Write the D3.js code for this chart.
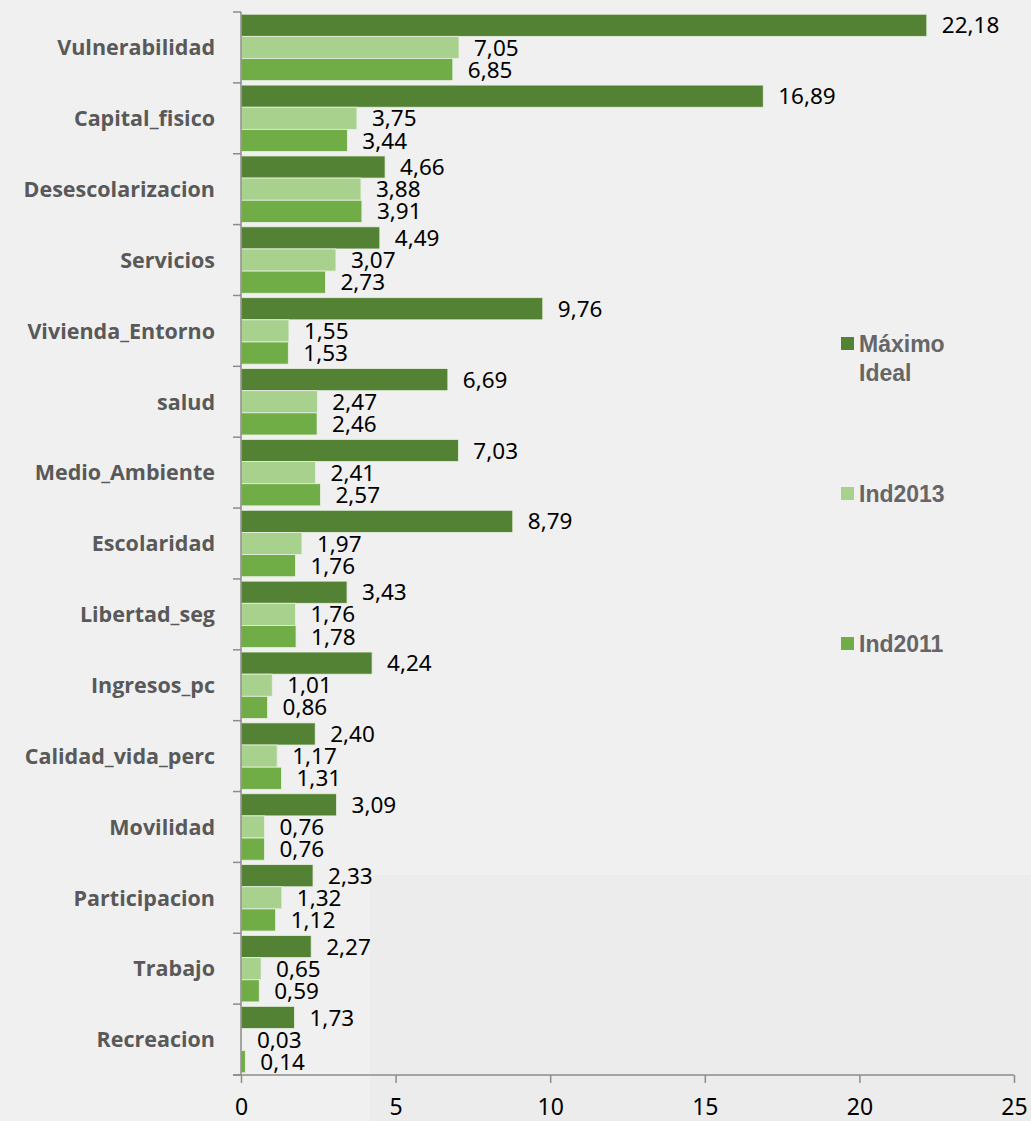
<!DOCTYPE html>
<html>
<head>
<meta charset="utf-8">
<script src="https://cdn.jsdelivr.net/npm/d3@7/dist/d3.min.js"></script>
<style>
  html, body { margin: 0; padding: 0; background: #f0f0f0; }
  svg { display: block; }
</style>
</head>
<body>
<div id="chart"></div>
<script>
// Categories, top to bottom
const categories = [
  "Vulnerabilidad", "Capital_fisico", "Desescolarizacion", "Servicios",
  "Vivienda_Entorno", "salud", "Medio_Ambiente", "Escolaridad",
  "Libertad_seg", "Ingresos_pc", "Calidad_vida_perc", "Movilidad",
  "Participacion", "Trabajo", "Recreacion"
]
const seriesNames = ["Máximo Ideal", "Ind2013", "Ind2011"]
const maximoIdeal = [22.18, 16.89, 4.66, 4.49, 9.76, 6.69, 7.03, 8.79, 3.43, 4.24, 2.40, 3.09, 2.33, 2.27, 1.73]
const ind2013     = [7.05, 3.75, 3.88, 3.07, 1.55, 2.47, 2.41, 1.97, 1.76, 1.01, 1.17, 0.76, 1.32, 0.65, 0.03]
const ind2011     = [6.85, 3.44, 3.91, 2.73, 1.53, 2.46, 2.57, 1.76, 1.78, 0.86, 1.31, 0.76, 1.12, 0.59, 0.14]
const xTicks = [0, 5, 10, 15, 20, 25]

const COLORS = ["#548235", "#a9d18e", "#70ad47"]
const AXIS = "#8c8c8c"

const W = 1031, H = 1121
const plot = { left: 241, right: 1014, top: 12, bottom: 1075 }

const svg = d3.select("#chart").append("svg")
  .attr("width", W).attr("height", H)

svg.append("rect").attr("width", W).attr("height", H).attr("fill", "#f0f0f0")
// faint shaded patch visible in the reference
svg.append("rect").attr("x", 370).attr("y", 875).attr("width", W - 370).attr("height", H - 875)
  .attr("fill", "#ececec")

const x = d3.scaleLinear().domain([0, 25]).range([plot.left, plot.right])
const y = d3.scaleBand().domain(categories).range([plot.top, plot.bottom])
const inner = d3.scaleBand().domain(seriesNames)
  .range([0, y.bandwidth()]).paddingOuter(0.1)

const series = [maximoIdeal, ind2013, ind2011]
const rows = []
categories.forEach((c, i) => {
  seriesNames.forEach((s, j) => rows.push({ cat: c, s, j, v: series[j][i] }))
})

const fmt = v => v.toFixed(2).replace(".", ",")

// bars
svg.append("g").selectAll("rect")
  .data(rows)
  .join("rect")
  .attr("x", x(0))
  .attr("y", d => y(d.cat) + inner(d.s))
  .attr("width", d => x(d.v) - x(0))
  .attr("height", inner.bandwidth())
  .attr("fill", d => COLORS[d.j])
  .attr("stroke", "#e8f0e2")
  .attr("stroke-width", 0.8)

// value labels
svg.append("g").selectAll("text")
  .data(rows)
  .join("text")
  .attr("x", d => x(d.v) + 15)
  .attr("y", d => y(d.cat) + inner(d.s) + inner.bandwidth() / 2)
  .attr("dy", "0.36em")
  .attr("font-family", "'Noto Sans', sans-serif")
  .attr("font-size", "22.5px")
  .attr("fill", "#000")
  .text(d => fmt(d.v))

// y axis
const yAxis = svg.append("g")
yAxis.append("line")
  .attr("x1", plot.left).attr("x2", plot.left)
  .attr("y1", plot.top).attr("y2", plot.bottom)
  .attr("stroke", AXIS).attr("stroke-width", 1.5)
yAxis.selectAll("line.tick")
  .data(categories.concat(["__end"]))
  .join("line")
  .attr("class", "tick")
  .attr("x1", plot.left - 8).attr("x2", plot.left)
  .attr("y1", (d, i) => i < categories.length ? y(d) : plot.bottom)
  .attr("y2", (d, i) => i < categories.length ? y(d) : plot.bottom)
  .attr("stroke", AXIS).attr("stroke-width", 1.5)
yAxis.selectAll("text")
  .data(categories)
  .join("text")
  .attr("x", 215)
  .attr("y", d => y(d) + y.bandwidth() / 2)
  .attr("dy", "0.36em")
  .attr("text-anchor", "end")
  .attr("font-family", "'Open Sans', sans-serif")
  .attr("font-weight", "bold")
  .attr("font-size", "21.5px")
  .attr("fill", "#595959")
  .text(d => d)

// x axis
const xAxis = svg.append("g")
  .attr("transform", `translate(0,${plot.bottom})`)
  .call(d3.axisBottom(x).tickValues(xTicks).tickSize(8).tickPadding(16).tickFormat(d => d))
xAxis.select(".domain").attr("stroke", AXIS).attr("stroke-width", 1.5)
  .attr("d", `M${plot.left - 8},0H${plot.right}`)
xAxis.selectAll(".tick line").attr("stroke", AXIS).attr("stroke-width", 1.5)
xAxis.selectAll(".tick text")
  .attr("font-family", "'Noto Sans', sans-serif")
  .attr("font-size", "23px")
  .attr("fill", "#000")

// legend
const legend = [
  { name: ["Máximo", "Ideal"], y: 344 },
  { name: ["Ind2013"], y: 494 },
  { name: ["Ind2011"], y: 644 }
]
const lg = svg.append("g").selectAll("g")
  .data(legend)
  .join("g")
  .attr("transform", d => `translate(841,${d.y})`)
lg.append("rect")
  .attr("x", 0).attr("y", -7).attr("width", 13).attr("height", 13)
  .attr("fill", (d, i) => COLORS[i])
lg.append("text")
  .attr("x", 18)
  .attr("font-family", "'Liberation Sans', Arial, sans-serif")
  .attr("font-weight", "bold")
  .attr("font-size", "23px")
  .attr("fill", "#666")
  .selectAll("tspan")
  .data(d => d.name)
  .join("tspan")
  .attr("x", 18)
  .attr("dy", (d, i) => i === 0 ? "0.36em" : "1.26em")
  .text(d => d)
</script>
</body>
</html>
